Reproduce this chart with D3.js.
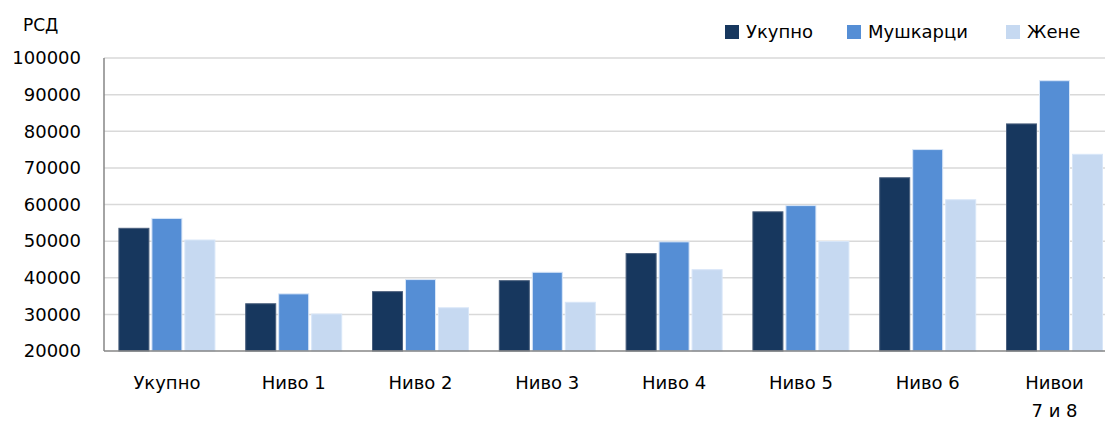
<!DOCTYPE html>
<html>
<head>
<meta charset="utf-8">
<script src="https://cdn.jsdelivr.net/npm/d3@7"></script>
<style>
  body { margin: 0; background: #fff; }
  svg text { font-family: "DejaVu Sans", sans-serif; fill: #000; }
</style>
</head>
<body>
<svg class="chart"></svg>
<script>
const categories = ["Укупно", "Ниво 1", "Ниво 2", "Ниво 3", "Ниво 4", "Ниво 5", "Ниво 6", "Нивои|7 и 8"]
const seriesNames = ["Укупно", "Мушкарци", "Жене"]
const ukupno   = [53500, 32900, 36200, 39200, 46600, 58000, 67300, 82000]
const muskarci = [56200, 35600, 39500, 41500, 49800, 59700, 75000, 93800]
const zene     = [50300, 30100, 31800, 33300, 42200, 49900, 61300, 73700]
const yTicks = [20000, 30000, 40000, 50000, 60000, 70000, 80000, 90000, 100000]
const colors = ["#17375e", "#558ed5", "#c6d9f1"]

const width = 1109, height = 421
const plot = { left: 104, right: 1105, top: 58, bottom: 351 }

const svg = d3.select(".chart")
  .attr("width", width)
  .attr("height", height)

const y = d3.scaleLinear()
  .domain([20000, 100000])
  .range([plot.bottom, plot.top])

// groups are ~127px apart, the last one runs up to the right edge
const x = d3.scaleBand()
  .domain(categories)
  .range([103.5, 103.5 + 126.8 * categories.length])

const sub = d3.scaleBand()
  .domain(seriesNames)
  .range([-48, 48])
  .paddingInner(0.09)

// gridlines
svg.append("g")
  .selectAll("line")
  .data(yTicks.slice(1))
  .enter()
  .append("line")
    .attr("x1", plot.left)
    .attr("x2", plot.right)
    .attr("y1", d => y(d))
    .attr("y2", d => y(d))
    .attr("stroke", "#d9d9d9")
    .attr("stroke-width", 1.5)

// y tick labels
svg.append("g")
  .selectAll("text")
  .data(yTicks)
  .enter()
  .append("text")
    .attr("x", 81)
    .attr("y", d => y(d))
    .attr("dy", "0.35em")
    .attr("text-anchor", "end")
    .style("font-size", "18px")
    .text(d => d)

svg.append("text")
  .attr("x", 23)
  .attr("y", 31)
  .style("font-size", "17px")
  .text("РСД")

// bars
const data = categories.map((c, i) => ({
  cat: c,
  vals: [ukupno[i], muskarci[i], zene[i]]
}))

const groups = svg.append("g")
  .selectAll("g")
  .data(data)
  .enter()
  .append("g")
    .attr("transform", d => "translate(" + (x(d.cat) + x.bandwidth() / 2) + ",0)")

groups.selectAll("rect")
  .data(d => d.vals.map((v, j) => ({ name: seriesNames[j], v: v, j: j })))
  .enter()
  .append("rect")
    .attr("x", d => sub(d.name))
    .attr("width", sub.bandwidth())
    .attr("y", d => y(d.v))
    .attr("height", d => plot.bottom - y(d.v))
    .attr("fill", d => colors[d.j])
    .attr("stroke", d => d.j == 0 ? "#4a5f7d" : "#d8e6f8")
    .attr("stroke-width", 1)

// axes lines
svg.append("line")
  .attr("x1", plot.left).attr("x2", plot.left)
  .attr("y1", plot.top).attr("y2", plot.bottom)
  .attr("stroke", "#868686").attr("stroke-width", 1.5)
svg.append("line")
  .attr("x1", plot.left).attr("x2", plot.right)
  .attr("y1", plot.bottom).attr("y2", plot.bottom)
  .attr("stroke", "#868686").attr("stroke-width", 1.5)

// category labels
const catLabels = svg.append("g")
  .selectAll("text")
  .data(categories)
  .enter()
  .append("text")
    .attr("x", d => x(d) + x.bandwidth() / 2)
    .attr("y", 389)
    .attr("text-anchor", "middle")
    .style("font-size", "18px")

catLabels.selectAll("tspan")
  .data(d => d.split("|"))
  .enter()
  .append("tspan")
    .attr("x", function () { return d3.select(this.parentNode).attr("x") })
    .attr("dy", (d, i) => i == 0 ? 0 : 28)
    .text(d => d)

// legend
const legendX = [725, 847, 1006]
const legend = svg.append("g")
  .selectAll("g")
  .data(seriesNames)
  .enter()
  .append("g")
    .attr("transform", (d, i) => "translate(" + legendX[i] + ",25)")

legend.append("rect")
  .attr("width", 14)
  .attr("height", 14)
  .attr("fill", (d, i) => colors[i])

legend.append("text")
  .attr("x", 21)
  .attr("y", 7)
  .attr("dy", "0.35em")
  .style("font-size", "18px")
  .text(d => d)
</script>
</body>
</html>
